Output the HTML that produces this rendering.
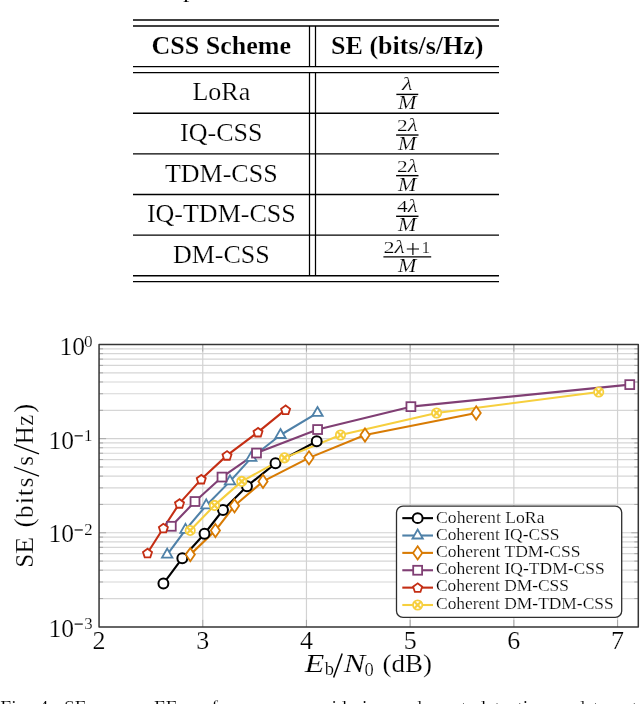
<!DOCTYPE html>
<html><head><meta charset="utf-8"><style>
html,body{margin:0;padding:0;background:#fff;}
body{width:640px;height:704px;overflow:hidden;position:relative;font-family:"Liberation Serif",serif;color:#000;}
svg{position:absolute;left:0;top:0;will-change:transform;}
text{font-family:"Liberation Serif",serif;fill:#000;stroke:#fff;stroke-width:0.2px;}
</style></head><body>
<svg width="640" height="704" viewBox="0 0 640 704">
<line x1="99.06" y1="598.56" x2="638.30" y2="598.56" stroke="#d6d6d6" stroke-width="1.2"/>
<line x1="99.06" y1="581.98" x2="638.30" y2="581.98" stroke="#d6d6d6" stroke-width="1.2"/>
<line x1="99.06" y1="570.22" x2="638.30" y2="570.22" stroke="#d6d6d6" stroke-width="1.2"/>
<line x1="99.06" y1="561.10" x2="638.30" y2="561.10" stroke="#d6d6d6" stroke-width="1.2"/>
<line x1="99.06" y1="553.65" x2="638.30" y2="553.65" stroke="#d6d6d6" stroke-width="1.2"/>
<line x1="99.06" y1="547.35" x2="638.30" y2="547.35" stroke="#d6d6d6" stroke-width="1.2"/>
<line x1="99.06" y1="541.89" x2="638.30" y2="541.89" stroke="#d6d6d6" stroke-width="1.2"/>
<line x1="99.06" y1="537.08" x2="638.30" y2="537.08" stroke="#d6d6d6" stroke-width="1.2"/>
<line x1="99.06" y1="504.44" x2="638.30" y2="504.44" stroke="#d6d6d6" stroke-width="1.2"/>
<line x1="99.06" y1="487.86" x2="638.30" y2="487.86" stroke="#d6d6d6" stroke-width="1.2"/>
<line x1="99.06" y1="476.10" x2="638.30" y2="476.10" stroke="#d6d6d6" stroke-width="1.2"/>
<line x1="99.06" y1="466.98" x2="638.30" y2="466.98" stroke="#d6d6d6" stroke-width="1.2"/>
<line x1="99.06" y1="459.53" x2="638.30" y2="459.53" stroke="#d6d6d6" stroke-width="1.2"/>
<line x1="99.06" y1="453.23" x2="638.30" y2="453.23" stroke="#d6d6d6" stroke-width="1.2"/>
<line x1="99.06" y1="447.77" x2="638.30" y2="447.77" stroke="#d6d6d6" stroke-width="1.2"/>
<line x1="99.06" y1="442.96" x2="638.30" y2="442.96" stroke="#d6d6d6" stroke-width="1.2"/>
<line x1="99.06" y1="410.32" x2="638.30" y2="410.32" stroke="#d6d6d6" stroke-width="1.2"/>
<line x1="99.06" y1="393.74" x2="638.30" y2="393.74" stroke="#d6d6d6" stroke-width="1.2"/>
<line x1="99.06" y1="381.98" x2="638.30" y2="381.98" stroke="#d6d6d6" stroke-width="1.2"/>
<line x1="99.06" y1="372.86" x2="638.30" y2="372.86" stroke="#d6d6d6" stroke-width="1.2"/>
<line x1="99.06" y1="365.41" x2="638.30" y2="365.41" stroke="#d6d6d6" stroke-width="1.2"/>
<line x1="99.06" y1="359.11" x2="638.30" y2="359.11" stroke="#d6d6d6" stroke-width="1.2"/>
<line x1="99.06" y1="353.65" x2="638.30" y2="353.65" stroke="#d6d6d6" stroke-width="1.2"/>
<line x1="99.06" y1="348.84" x2="638.30" y2="348.84" stroke="#d6d6d6" stroke-width="1.2"/>
<line x1="99.06" y1="532.77" x2="638.30" y2="532.77" stroke="#d2d2d2" stroke-width="1.2"/>
<line x1="99.06" y1="438.65" x2="638.30" y2="438.65" stroke="#d2d2d2" stroke-width="1.2"/>
<line x1="202.76" y1="344.53" x2="202.76" y2="626.89" stroke="#d2d2d2" stroke-width="1.2"/>
<line x1="306.46" y1="344.53" x2="306.46" y2="626.89" stroke="#d2d2d2" stroke-width="1.2"/>
<line x1="410.16" y1="344.53" x2="410.16" y2="626.89" stroke="#d2d2d2" stroke-width="1.2"/>
<line x1="513.86" y1="344.53" x2="513.86" y2="626.89" stroke="#d2d2d2" stroke-width="1.2"/>
<line x1="617.56" y1="344.53" x2="617.56" y2="626.89" stroke="#d2d2d2" stroke-width="1.2"/>
<path d="M202.76,626.89v-7M202.76,344.53v7M306.46,626.89v-7M306.46,344.53v7M410.16,626.89v-7M410.16,344.53v7M513.86,626.89v-7M513.86,344.53v7M617.56,626.89v-7M617.56,344.53v7M99.06,598.56h4M638.30,598.56h-4M99.06,581.98h4M638.30,581.98h-4M99.06,570.22h4M638.30,570.22h-4M99.06,561.10h4M638.30,561.10h-4M99.06,553.65h4M638.30,553.65h-4M99.06,547.35h4M638.30,547.35h-4M99.06,541.89h4M638.30,541.89h-4M99.06,537.08h4M638.30,537.08h-4M99.06,504.44h4M638.30,504.44h-4M99.06,487.86h4M638.30,487.86h-4M99.06,476.10h4M638.30,476.10h-4M99.06,466.98h4M638.30,466.98h-4M99.06,459.53h4M638.30,459.53h-4M99.06,453.23h4M638.30,453.23h-4M99.06,447.77h4M638.30,447.77h-4M99.06,442.96h4M638.30,442.96h-4M99.06,410.32h4M638.30,410.32h-4M99.06,393.74h4M638.30,393.74h-4M99.06,381.98h4M638.30,381.98h-4M99.06,372.86h4M638.30,372.86h-4M99.06,365.41h4M638.30,365.41h-4M99.06,359.11h4M638.30,359.11h-4M99.06,353.65h4M638.30,353.65h-4M99.06,348.84h4M638.30,348.84h-4M99.06,532.77h7M638.30,532.77h-7M99.06,438.65h7M638.30,438.65h-7" stroke="#a8a8a8" stroke-width="1" fill="none"/>
<polyline points="163.40,583.55 182.30,558.18 204.50,533.74 223.00,510.01 247.00,486.19 275.50,463.32 316.70,441.29" fill="none" stroke="#000000" stroke-width="2.1" stroke-linejoin="round"/>
<polyline points="167.20,554.62 185.50,529.84 206.25,505.41 230.00,481.38 251.25,457.86 280.50,434.99 317.50,412.96" fill="none" stroke="#4f81a8" stroke-width="2.1" stroke-linejoin="round"/>
<polyline points="190.30,554.62 215.40,530.54 234.50,505.81 263.00,481.38 309.00,457.86 365.00,434.99 476.20,412.96" fill="none" stroke="#d87b04" stroke-width="2.1" stroke-linejoin="round"/>
<polyline points="171.30,526.29 195.00,501.51 222.00,477.07 256.50,453.05 317.60,429.53 410.90,406.65 629.75,384.62" fill="none" stroke="#803f74" stroke-width="2.1" stroke-linejoin="round"/>
<polyline points="147.50,552.95 163.40,528.03 179.50,503.41 201.25,479.17 227.00,455.38 258.00,432.17 285.60,409.68" fill="none" stroke="#c42e14" stroke-width="2.1" stroke-linejoin="round"/>
<polyline points="190.20,530.44 214.50,505.41 241.75,481.38 284.50,457.86 340.50,434.99 436.60,412.96 598.70,392.07" fill="none" stroke="#f6cf3e" stroke-width="2.1" stroke-linejoin="round"/>
<circle cx="163.40" cy="583.55" r="4.95" fill="#fff" stroke="#000000" stroke-width="2.0"/>
<circle cx="182.30" cy="558.18" r="4.95" fill="#fff" stroke="#000000" stroke-width="2.0"/>
<circle cx="204.50" cy="533.74" r="4.95" fill="#fff" stroke="#000000" stroke-width="2.0"/>
<circle cx="223.00" cy="510.01" r="4.95" fill="#fff" stroke="#000000" stroke-width="2.0"/>
<circle cx="247.00" cy="486.19" r="4.95" fill="#fff" stroke="#000000" stroke-width="2.0"/>
<circle cx="275.50" cy="463.32" r="4.95" fill="#fff" stroke="#000000" stroke-width="2.0"/>
<circle cx="316.70" cy="441.29" r="4.95" fill="#fff" stroke="#000000" stroke-width="2.0"/>
<polygon points="167.20,548.62 172.40,557.62 162.00,557.62" fill="#fff" stroke="#4f81a8" stroke-width="1.8" stroke-linejoin="miter"/>
<polygon points="185.50,523.84 190.70,532.84 180.30,532.84" fill="#fff" stroke="#4f81a8" stroke-width="1.8" stroke-linejoin="miter"/>
<polygon points="206.25,499.41 211.45,508.41 201.05,508.41" fill="#fff" stroke="#4f81a8" stroke-width="1.8" stroke-linejoin="miter"/>
<polygon points="230.00,475.38 235.20,484.38 224.80,484.38" fill="#fff" stroke="#4f81a8" stroke-width="1.8" stroke-linejoin="miter"/>
<polygon points="251.25,451.86 256.45,460.86 246.05,460.86" fill="#fff" stroke="#4f81a8" stroke-width="1.8" stroke-linejoin="miter"/>
<polygon points="280.50,428.99 285.70,437.99 275.30,437.99" fill="#fff" stroke="#4f81a8" stroke-width="1.8" stroke-linejoin="miter"/>
<polygon points="317.50,406.96 322.70,415.96 312.30,415.96" fill="#fff" stroke="#4f81a8" stroke-width="1.8" stroke-linejoin="miter"/>
<polygon points="190.30,548.02 194.90,554.62 190.30,561.22 185.70,554.62" fill="#fff" stroke="#d87b04" stroke-width="1.8"/>
<polygon points="215.40,523.94 220.00,530.54 215.40,537.14 210.80,530.54" fill="#fff" stroke="#d87b04" stroke-width="1.8"/>
<polygon points="234.50,499.21 239.10,505.81 234.50,512.41 229.90,505.81" fill="#fff" stroke="#d87b04" stroke-width="1.8"/>
<polygon points="263.00,474.78 267.60,481.38 263.00,487.98 258.40,481.38" fill="#fff" stroke="#d87b04" stroke-width="1.8"/>
<polygon points="309.00,451.26 313.60,457.86 309.00,464.46 304.40,457.86" fill="#fff" stroke="#d87b04" stroke-width="1.8"/>
<polygon points="365.00,428.39 369.60,434.99 365.00,441.59 360.40,434.99" fill="#fff" stroke="#d87b04" stroke-width="1.8"/>
<polygon points="476.20,406.36 480.80,412.96 476.20,419.56 471.60,412.96" fill="#fff" stroke="#d87b04" stroke-width="1.8"/>
<rect x="166.85" y="521.84" width="8.90" height="8.90" fill="#fff" stroke="#803f74" stroke-width="1.8"/>
<rect x="190.55" y="497.06" width="8.90" height="8.90" fill="#fff" stroke="#803f74" stroke-width="1.8"/>
<rect x="217.55" y="472.62" width="8.90" height="8.90" fill="#fff" stroke="#803f74" stroke-width="1.8"/>
<rect x="252.05" y="448.60" width="8.90" height="8.90" fill="#fff" stroke="#803f74" stroke-width="1.8"/>
<rect x="313.15" y="425.08" width="8.90" height="8.90" fill="#fff" stroke="#803f74" stroke-width="1.8"/>
<rect x="406.45" y="402.20" width="8.90" height="8.90" fill="#fff" stroke="#803f74" stroke-width="1.8"/>
<rect x="625.30" y="380.17" width="8.90" height="8.90" fill="#fff" stroke="#803f74" stroke-width="1.8"/>
<polygon points="147.50,548.70 142.98,551.98 144.71,557.29 150.29,557.29 152.02,551.98" fill="#fff" stroke="#c42e14" stroke-width="1.8"/>
<polygon points="163.40,523.78 158.88,527.06 160.61,532.37 166.19,532.37 167.92,527.06" fill="#fff" stroke="#c42e14" stroke-width="1.8"/>
<polygon points="179.50,499.16 174.98,502.44 176.71,507.75 182.29,507.75 184.02,502.44" fill="#fff" stroke="#c42e14" stroke-width="1.8"/>
<polygon points="201.25,474.92 196.73,478.20 198.46,483.51 204.04,483.51 205.77,478.20" fill="#fff" stroke="#c42e14" stroke-width="1.8"/>
<polygon points="227.00,451.13 222.48,454.42 224.21,459.73 229.79,459.73 231.52,454.42" fill="#fff" stroke="#c42e14" stroke-width="1.8"/>
<polygon points="258.00,427.92 253.48,431.20 255.21,436.51 260.79,436.51 262.52,431.20" fill="#fff" stroke="#c42e14" stroke-width="1.8"/>
<polygon points="285.60,405.43 281.08,408.72 282.81,414.03 288.39,414.03 290.12,408.72" fill="#fff" stroke="#c42e14" stroke-width="1.8"/>
<circle cx="190.20" cy="530.44" r="4.65" fill="#fff" stroke="#f6cf3e" stroke-width="1.8"/><path d="M186.91,527.16L193.49,533.73M186.91,533.73L193.49,527.16" stroke="#f6cf3e" stroke-width="2.3"/>
<circle cx="214.50" cy="505.41" r="4.65" fill="#fff" stroke="#f6cf3e" stroke-width="1.8"/><path d="M211.21,502.12L217.79,508.69M211.21,508.69L217.79,502.12" stroke="#f6cf3e" stroke-width="2.3"/>
<circle cx="241.75" cy="481.38" r="4.65" fill="#fff" stroke="#f6cf3e" stroke-width="1.8"/><path d="M238.46,478.09L245.04,484.67M238.46,484.67L245.04,478.09" stroke="#f6cf3e" stroke-width="2.3"/>
<circle cx="284.50" cy="457.86" r="4.65" fill="#fff" stroke="#f6cf3e" stroke-width="1.8"/><path d="M281.21,454.57L287.79,461.15M281.21,461.15L287.79,454.57" stroke="#f6cf3e" stroke-width="2.3"/>
<circle cx="340.50" cy="434.99" r="4.65" fill="#fff" stroke="#f6cf3e" stroke-width="1.8"/><path d="M337.21,431.70L343.79,438.28M337.21,438.28L343.79,431.70" stroke="#f6cf3e" stroke-width="2.3"/>
<circle cx="436.60" cy="412.96" r="4.65" fill="#fff" stroke="#f6cf3e" stroke-width="1.8"/><path d="M433.31,409.67L439.89,416.24M433.31,416.24L439.89,409.67" stroke="#f6cf3e" stroke-width="2.3"/>
<circle cx="598.70" cy="392.07" r="4.65" fill="#fff" stroke="#f6cf3e" stroke-width="1.8"/><path d="M595.41,388.79L601.99,395.36M595.41,395.36L601.99,388.79" stroke="#f6cf3e" stroke-width="2.3"/>
<rect x="99.06" y="344.53" width="539.24" height="282.36" fill="none" stroke="#353535" stroke-width="1.5" stroke-linejoin="round"/>
<rect x="396.5" y="506.1" width="225.20" height="111.30" rx="6.5" ry="6.5" fill="#fff" stroke="#2e2e2e" stroke-width="1.3"/>
<line x1="402.3" y1="518.15" x2="433" y2="518.15" stroke="#000000" stroke-width="2.1"/>
<circle cx="417.65" cy="518.15" r="4.95" fill="#fff" stroke="#000000" stroke-width="2.0"/>
<text x="436.0" y="522.50" font-size="16.2" textLength="108.50" lengthAdjust="spacingAndGlyphs">Coherent LoRa</text>
<line x1="402.3" y1="535.52" x2="433" y2="535.52" stroke="#4f81a8" stroke-width="2.1"/>
<polygon points="417.65,529.52 422.85,538.52 412.45,538.52" fill="#fff" stroke="#4f81a8" stroke-width="1.8" stroke-linejoin="miter"/>
<text x="436.0" y="539.70" font-size="16.2" textLength="123.55" lengthAdjust="spacingAndGlyphs">Coherent IQ-CSS</text>
<line x1="402.3" y1="552.89" x2="433" y2="552.89" stroke="#d87b04" stroke-width="2.1"/>
<polygon points="417.65,546.29 422.25,552.89 417.65,559.49 413.05,552.89" fill="#fff" stroke="#d87b04" stroke-width="1.8"/>
<text x="436.0" y="556.90" font-size="16.2" textLength="144.60" lengthAdjust="spacingAndGlyphs">Coherent TDM-CSS</text>
<line x1="402.3" y1="570.26" x2="433" y2="570.26" stroke="#803f74" stroke-width="2.1"/>
<rect x="413.20" y="565.81" width="8.90" height="8.90" fill="#fff" stroke="#803f74" stroke-width="1.8"/>
<text x="436.0" y="574.10" font-size="16.2" textLength="168.70" lengthAdjust="spacingAndGlyphs">Coherent IQ-TDM-CSS</text>
<line x1="402.3" y1="587.63" x2="433" y2="587.63" stroke="#c42e14" stroke-width="2.1"/>
<polygon points="417.65,583.38 413.13,586.66 414.86,591.97 420.44,591.97 422.17,586.66" fill="#fff" stroke="#c42e14" stroke-width="1.8"/>
<text x="436.0" y="591.30" font-size="16.2" textLength="133.00" lengthAdjust="spacingAndGlyphs">Coherent DM-CSS</text>
<line x1="402.3" y1="605.00" x2="433" y2="605.00" stroke="#f6cf3e" stroke-width="2.1"/>
<circle cx="417.65" cy="605.00" r="4.65" fill="#fff" stroke="#f6cf3e" stroke-width="1.8"/><path d="M414.36,601.71L420.94,608.29M414.36,608.29L420.94,601.71" stroke="#f6cf3e" stroke-width="2.3"/>
<text x="436.0" y="608.50" font-size="16.2" textLength="177.70" lengthAdjust="spacingAndGlyphs">Coherent DM-TDM-CSS</text>
<text x="99.06" y="648.5" font-size="26" text-anchor="middle">2</text>
<text x="202.76" y="648.5" font-size="26" text-anchor="middle">3</text>
<text x="306.46" y="648.5" font-size="26" text-anchor="middle">4</text>
<text x="410.16" y="648.5" font-size="26" text-anchor="middle">5</text>
<text x="513.86" y="648.5" font-size="26" text-anchor="middle">6</text>
<text x="617.56" y="648.5" font-size="26" text-anchor="middle">7</text>
<text x="59.6" y="355.00" font-size="25.5">10</text>
<text x="84.0" y="346.73" font-size="16.8" textLength="8.6" lengthAdjust="spacingAndGlyphs">0</text>
<text x="48.6" y="448.60" font-size="25.5">10</text>
<line x1="74.6" y1="435.85" x2="82.8" y2="435.85" stroke="#000" stroke-width="1.15"/>
<text x="83.9" y="440.55" font-size="16.8">1</text>
<text x="48.6" y="542.30" font-size="25.5">10</text>
<line x1="74.6" y1="529.97" x2="82.8" y2="529.97" stroke="#000" stroke-width="1.15"/>
<text x="84.25" y="534.67" font-size="16.8">2</text>
<text x="48.6" y="636.90" font-size="25.5">10</text>
<line x1="74.6" y1="624.09" x2="82.8" y2="624.09" stroke="#000" stroke-width="1.15"/>
<text x="84.2" y="628.79" font-size="16.8">3</text>
<g transform="translate(33.0,567.5) rotate(-90)"><text x="-0.3" y="0" font-size="25">S</text><text x="13.6" y="0" font-size="25" textLength="17.4" lengthAdjust="spacingAndGlyphs">E</text><text x="40.0" y="0" font-size="28">(</text><text x="49.6" y="0" font-size="25">b</text><text x="63.6" y="0" font-size="25">i</text><text x="71.6" y="0" font-size="25">t</text><text x="80.3" y="0" font-size="25">s</text><text x="101.8" y="0" font-size="25">s</text><text x="123.3" y="0" font-size="25">H</text><text x="141.8" y="0" font-size="25">z</text><text x="154.6" y="0" font-size="28">)</text><path d="M91.3,6.0L100.5,-19.0M113.7,6.0L122.9,-19.0" stroke="#000" stroke-width="1.3" fill="none"/></g>
<text x="304.8" y="671.9" font-size="26" font-style="italic" textLength="19.6" lengthAdjust="spacingAndGlyphs">E</text>
<text x="324.8" y="675.4" font-size="18.5">b</text>
<line x1="333.6" y1="677.6" x2="342.2" y2="653.4" stroke="#000" stroke-width="1.5"/>
<text x="343.8" y="671.9" font-size="26" font-style="italic" textLength="21.5" lengthAdjust="spacingAndGlyphs">N</text>
<text x="364.6" y="675.6" font-size="18.5">0</text>
<text x="382.5" y="671.9" font-size="26" textLength="49.5" lengthAdjust="spacingAndGlyphs">(dB)</text>
<line x1="133" y1="20.0" x2="499" y2="20.0" stroke="#000" stroke-width="1.45"/>
<line x1="133" y1="26.0" x2="499" y2="26.0" stroke="#000" stroke-width="1.45"/>
<line x1="133" y1="66.6" x2="499" y2="66.6" stroke="#000" stroke-width="1.45"/>
<line x1="133" y1="72.6" x2="499" y2="72.6" stroke="#000" stroke-width="1.45"/>
<line x1="133" y1="113.23" x2="499" y2="113.23" stroke="#000" stroke-width="1.45"/>
<line x1="133" y1="153.86" x2="499" y2="153.86" stroke="#000" stroke-width="1.45"/>
<line x1="133" y1="194.49" x2="499" y2="194.49" stroke="#000" stroke-width="1.45"/>
<line x1="133" y1="235.12" x2="499" y2="235.12" stroke="#000" stroke-width="1.45"/>
<line x1="133" y1="275.75" x2="499" y2="275.75" stroke="#000" stroke-width="1.45"/>
<line x1="133" y1="281.6" x2="499" y2="281.6" stroke="#000" stroke-width="1.45"/>
<line x1="309.5" y1="26.0" x2="309.5" y2="66.6" stroke="#000" stroke-width="1.25"/>
<line x1="309.5" y1="72.6" x2="309.5" y2="275.75" stroke="#000" stroke-width="1.25"/>
<line x1="315.5" y1="26.0" x2="315.5" y2="66.6" stroke="#000" stroke-width="1.25"/>
<line x1="315.5" y1="72.6" x2="315.5" y2="275.75" stroke="#000" stroke-width="1.25"/>
<text x="221.3" y="53.75" font-size="26" font-weight="bold" text-anchor="middle">CSS Scheme</text>
<text x="407.3" y="53.75" font-size="26" font-weight="bold" text-anchor="middle">SE (bits/s/Hz)</text>
<text x="221.3" y="100.35" font-size="26" text-anchor="middle">LoRa</text>
<text x="407.3" y="90.40" font-size="18.5" text-anchor="middle" textLength="10.6" lengthAdjust="spacingAndGlyphs"><tspan font-style="italic">λ</tspan></text>
<line x1="396.35" y1="94.40" x2="418.25" y2="94.40" stroke="#000" stroke-width="1.4"/>
<text x="407.3" y="109.30" font-size="19.4" font-style="italic" text-anchor="middle" textLength="18.4" lengthAdjust="spacingAndGlyphs">M</text>
<text x="221.3" y="140.98" font-size="26" text-anchor="middle">IQ-CSS</text>
<text x="407.3" y="131.03" font-size="18.5" text-anchor="middle" textLength="20.6" lengthAdjust="spacingAndGlyphs"><tspan font-size="17.3">2</tspan><tspan font-style="italic">λ</tspan></text>
<line x1="396.10" y1="135.03" x2="418.50" y2="135.03" stroke="#000" stroke-width="1.4"/>
<text x="407.3" y="149.93" font-size="19.4" font-style="italic" text-anchor="middle" textLength="18.4" lengthAdjust="spacingAndGlyphs">M</text>
<text x="221.3" y="181.61" font-size="26" text-anchor="middle">TDM-CSS</text>
<text x="407.3" y="171.66" font-size="18.5" text-anchor="middle" textLength="20.6" lengthAdjust="spacingAndGlyphs"><tspan font-size="17.3">2</tspan><tspan font-style="italic">λ</tspan></text>
<line x1="396.10" y1="175.66" x2="418.50" y2="175.66" stroke="#000" stroke-width="1.4"/>
<text x="407.3" y="190.56" font-size="19.4" font-style="italic" text-anchor="middle" textLength="18.4" lengthAdjust="spacingAndGlyphs">M</text>
<text x="221.3" y="222.24" font-size="26" text-anchor="middle">IQ-TDM-CSS</text>
<text x="407.3" y="212.29" font-size="18.5" text-anchor="middle" textLength="20.6" lengthAdjust="spacingAndGlyphs"><tspan font-size="17.3">4</tspan><tspan font-style="italic">λ</tspan></text>
<line x1="396.10" y1="216.29" x2="418.50" y2="216.29" stroke="#000" stroke-width="1.4"/>
<text x="407.3" y="231.19" font-size="19.4" font-style="italic" text-anchor="middle" textLength="18.4" lengthAdjust="spacingAndGlyphs">M</text>
<text x="221.3" y="262.87" font-size="26" text-anchor="middle">DM-CSS</text>
<text x="383.4" y="252.92" font-size="17.3" textLength="21.4" lengthAdjust="spacingAndGlyphs">2<tspan font-style="italic" font-size="18.5">λ</tspan></text>
<path d="M406.8,249.02H419M412.9,243.12V254.92" stroke="#000" stroke-width="1.15" fill="none"/>
<text x="421.5" y="252.92" font-size="17.3">1</text>
<line x1="383.40" y1="256.92" x2="431.20" y2="256.92" stroke="#000" stroke-width="1.4"/>
<text x="407.3" y="271.82" font-size="19.4" font-style="italic" text-anchor="middle" textLength="18.4" lengthAdjust="spacingAndGlyphs">M</text>
<text x="183" y="-3" font-size="26">p</text>
<text x="0.3" y="714.2" font-size="19.6">Fig.</text>
<text x="38.6" y="714.2" font-size="19.6">4:</text>
<text x="63.9" y="714.2" font-size="19.6">SE</text>
<text x="94.9" y="714.2" font-size="19.6">versus</text>
<text x="153.9" y="714.2" font-size="19.6">EE</text>
<text x="186.4" y="714.2" font-size="19.6">performance</text>
<text x="295.6" y="714.2" font-size="19.6">considering</text>
<text x="398.9" y="714.2" font-size="19.6">coherent</text>
<text x="476.0" y="714.2" font-size="19.6">detection</text>
<text x="556.8" y="714.2" font-size="19.6">and</text>
<text x="593.0" y="714.2" font-size="19.6">target</text>
</svg>
</body></html>
